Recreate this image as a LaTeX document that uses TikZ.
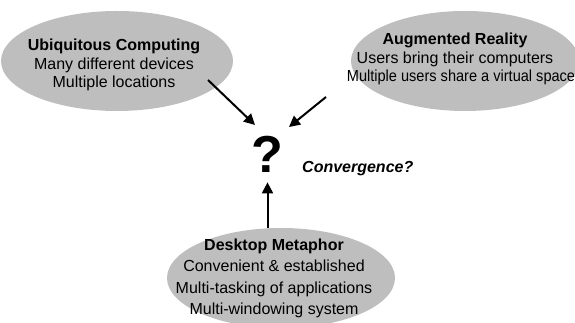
\documentclass[tikz,border=0pt]{standalone}
\usepackage{fontspec}
\setmainfont{Liberation Sans}
\usetikzlibrary{shapes.geometric,arrows.meta,calc}
\definecolor{bubblegray}{RGB}{190,190,190}
\begin{document}
\begin{tikzpicture}[x=1pt,y=1pt,
  bubble/.style={ellipse, fill=bubblegray, inner sep=0pt},
  txt/.style={align=center, inner sep=0pt, font=\fontsize{16}{18.5}\selectfont},
  txtwide/.style={align=center, inner sep=0pt, font=\fontsize{16}{21.5}\selectfont},
  arr/.style={line width=2pt, -{Triangle[length=11pt,width=11pt]}}]
\useasboundingbox (0,0) rectangle (575,323);

% the three approaches (text nodes are placed by the baseline of their last line)
\node[bubble, minimum width=232pt, minimum height=100pt] (ubiShape) at (117,262) {};
\node[bubble, minimum width=228pt, minimum height=100pt] (arShape) at (465,262) {};
\node[bubble, minimum width=228pt, minimum height=100pt] (deskShape) at (281,45) {};

\node[txt, anchor=base] (ubi) at (114,235)
  {\textbf{Ubiquitous Computing}\\Many different devices\\Multiple locations};
\node[txt, anchor=base] (ar) at (455,241)
  {\textbf{Augmented Reality}\\Users bring their computers\\
   \hspace*{12pt}\scalebox{0.91}[1]{Multiple users share a virtual space}};
\node[txtwide, anchor=base] (desk) at (274,8)
  {\textbf{Desktop Metaphor}\\Convenient \& established\\Multi-tasking of applications\\Multi-windowing system};

% open question in the middle
\node[inner sep=0pt, font=\fontsize{52}{52}\selectfont\bfseries] (q) at (267.5,169) {?};
\node[anchor=base west, inner sep=0pt, font=\fontsize{16}{18}\selectfont\bfseries\itshape] (conv) at (302,150) {Convergence?};

% arrows converging on the question mark
\draw[arr] ($(ubiShape.center)+(91,-19)$) -- ($(q.center)+(-12.5,29)$);
\draw[arr] ($(arShape.center)+(-139,-36)$) -- ($(q.center)+(21.5,27)$);
\draw[arr, shorten >=10pt] (deskShape.north -| q.south) -- (q.south);
\end{tikzpicture}
\end{document}
